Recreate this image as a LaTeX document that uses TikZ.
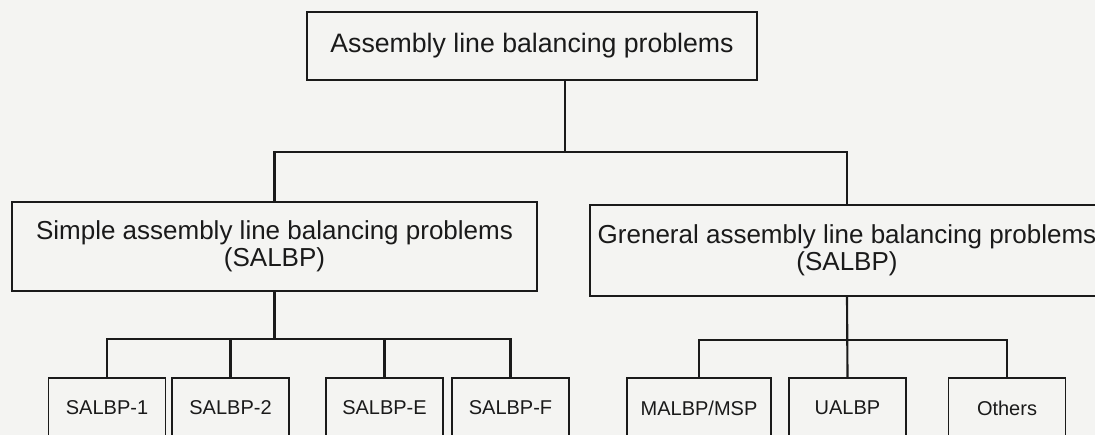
\documentclass[tikz,border=0pt]{standalone}
\usepackage{fontspec}
\setmainfont{Liberation Sans}
\usetikzlibrary{positioning,calc}
\definecolor{paper}{HTML}{F4F4F2}
\definecolor{ink}{HTML}{1A1A1A}
\tikzset{
  box/.style={
    draw=ink, line width=1.2pt, inner sep=0pt,
    align=center, text=ink
  },
  leaf/.style={
    box, minimum width=87.75pt, minimum height=45pt,
    font=\fontsize{15}{18}\selectfont
  },
  link/.style={draw=ink, line width=1.6pt}
}
\begin{document}
\begin{tikzpicture}[x=0.75pt, y=-0.75pt]
  \clip (0,0) rectangle (1095,435);
  \fill[paper] (0,0) rectangle (1095,435);

  % root
  \node[box, minimum width=337.5pt, minimum height=51pt,
    font=\fontsize{20}{24}\selectfont] (albp) at (532,46)
    {Assembly line balancing problems};

  % second level
  \node[box, minimum width=393.75pt, minimum height=66.75pt,
    font=\fontsize{19.5}{20.5}\selectfont] (salbp) at (274.5,246.5)
    {Simple assembly line balancing problems\\(SALBP)};
  \node[box, minimum width=385.5pt, minimum height=68.25pt,
    font=\fontsize{19.5}{20.5}\selectfont] (galbp) at (847,250.5)
    {Greneral assembly line balancing problems\\(SALBP)};

  % leaves
  \node[leaf] (s1) at (107,408) {SALBP-1};
  \node[leaf] (s2) at (230.5,408) {SALBP-2};
  \node[leaf] (se) at (384.5,408) {SALBP-E};
  \node[leaf] (sf) at (510.5,408) {SALBP-F};
  \node[leaf, minimum width=108pt] (malbp) at (699,408) {MALBP/MSP};
  \node[leaf] (ualbp) at (847.5,408) {UALBP};
  \node[leaf] (others) at (1007,408) {Others};

  \coordinate (jroot) at (565,152);
  \coordinate (jsim) at (274.5,339);
  \coordinate (jgen) at (847,340);

  \draw[link] (albp.south -| jroot) -- (jroot);
  \draw[link] (salbp.north) |- (jroot) -| (galbp.north);

  \draw[link] (salbp.south) -- (jsim);
  \draw[link] (s1.north) |- (jsim) -| (sf.north);
  \draw[link] (s2.north) -- (s2.north |- jsim);
  \draw[link] (se.north) -- (se.north |- jsim);

  \draw[link] (galbp.south) -- (ualbp.north);
  \draw[link] (malbp.north) |- (jgen) -| (others.north);
\end{tikzpicture}
\end{document}
